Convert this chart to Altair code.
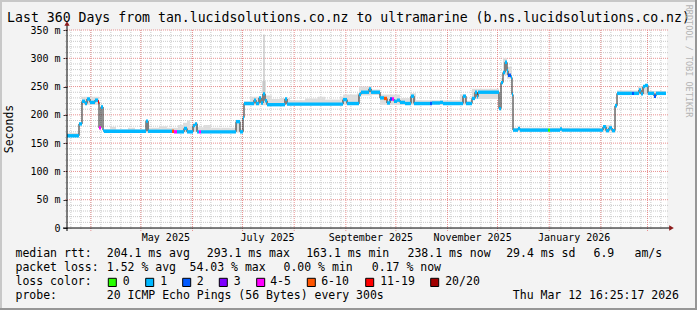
import altair as alt
import pandas as pd

MONO = "DejaVu Sans Mono"

# ---------------- data ----------------
# x is expressed in days since the start of the 360-day window
START = pd.Timestamp("2025-03-17 16:25:17")
SPAN_DAYS = 360
LAST_DAY = 359.4

# median rtt (ms), step series
med_day = [0, 7.2, 9, 10.8, 12, 13.8, 16.8, 18.6, 19.2, 20.4,
           21.6, 22.2, 47.4, 48.6, 63, 64.2, 66, 70.2, 72, 75.6,
           76.8, 78, 79.2, 80.4, 101.4, 103.8, 105.6, 106.2, 112.2, 113.4,
           115.2, 116.4, 117.6, 118.8, 120, 130.8, 132, 165.6, 168, 175.2,
           176.4, 181.2, 182.4, 187.8, 190.2, 192, 193.8, 195, 196.2, 198,
           199.8, 202.8, 206.4, 208.2, 217.8, 219, 223.8, 225.6, 237.6, 239.4,
           243, 244.8, 246, 246.6, 259.2, 260.4, 261.6, 262.8, 264, 264.6,
           266.4, 267, 267.6, 270.6, 271.8, 288.6, 289.8, 295.8, 297, 321.6,
           323.4, 325.2, 327, 328.8, 330, 339, 340.2, 343.2, 344.4, 345.6,
           346.8, 348.6, 352.2, 353.4]
med_ms = [163, 184, 224, 220, 228, 222, 226, 223, 177, 214,
          173, 171, 189, 171, 171, 170, 170, 176, 170, 181,
          184, 170, 170, 170, 188, 170, 195, 220, 226, 220,
          230, 221, 237, 225, 218, 228, 219, 227, 220, 236,
          240, 246, 240, 230, 229, 221, 228, 228, 224, 226,
          222, 220, 233, 220, 220, 221, 222, 220, 233, 220,
          229, 240, 232, 240, 211, 257, 275, 293, 278, 270,
          266, 236, 173, 176, 173, 173, 173, 175, 173, 179,
          172, 177, 172, 216, 238, 238, 238, 244, 237, 250,
          252, 238, 233, 238]
med_loss = ["1", "1", "1", "1", "1", "1", "1", "11-19", "4-5", "1",
            "1", "1", "1", "1", "6-10", "4-5", "1", "1", "1", "1",
            "1", "1", "4-5", "1", "1", "1", "1", "1", "1", "1",
            "1", "1", "1", "1", "1", "1", "1", "1", "1", "1",
            "1", "1", "1", "1", "6-10", "1", "2", "4-5", "1", "1",
            "1", "1", "1", "1", "2", "1", "1", "1", "1", "1",
            "1", "1", "1", "1", "1", "1", "1", "1", "1", "2",
            "1", "1", "1", "1", "1", "0", "1", "1", "1", "1",
            "1", "1", "1", "1", "1", "2", "1", "1", "1", "1",
            "1", "1", "2", "1"]

# smoke (spread of the 20 pings), step series
smoke_day = [0, 7.2, 9, 19.2, 20.4, 21.6, 25.8, 29.4, 36.6, 40.8,
             47.4, 49.2, 55.2, 60, 66.6, 69.6, 72, 73.8, 75.6, 78.6,
             82.2, 86.4, 101.4, 103.8, 106.2, 109.8, 117, 119.4, 123, 129,
             133.8, 142.8, 150.6, 154.8, 163.8, 165.6, 174, 175.2, 183, 187.8,
             199.8, 205.8, 209.4, 235.8, 239.4, 243, 259.2, 260.4, 261.6, 264,
             267, 267.6, 321.6, 327, 328.8, 330, 342.6, 348.6]
smoke_lo = [162, 182, 218, 175, 212, 170, 170, 170, 170, 170,
            169, 169, 169, 169, 169, 169, 169, 169, 170, 169,
            169, 169, 169, 169, 217, 217, 217, 217, 217, 217,
            217, 217, 217, 217, 217, 218, 218, 234, 235, 218,
            218, 218, 218, 218, 218, 228, 209, 255, 270, 264,
            234, 171, 171, 171, 214, 236, 236, 236]
smoke_hi = [168, 186, 232, 180, 218, 175, 179, 174, 177, 174,
            191, 177, 180, 177, 182, 186, 190, 181, 186, 178,
            182, 177, 191, 175, 224, 232, 260, 234, 228, 230,
            226, 229, 232, 227, 232, 236, 238, 250, 245, 236,
            230, 238, 226, 236, 225, 246, 216, 265, 300, 285,
            240, 177, 182, 176, 220, 243, 250, 242]

spike_day = [118.2]
spike_lo = [236]
spike_hi = [342]

y_major = [0, 50, 100, 150, 200, 250, 300, 350]
y_minor = [v for v in range(10, 350, 10) if v % 50]

month_names = ["May 2025", "July 2025", "September 2025", "November 2025", "January 2026"]
month_label_dates = ["2025-05-16", "2025-07-16", "2025-09-16", "2025-11-16", "2026-01-16"]
month_start_dates = ["2025-04-01", "2025-05-01", "2025-06-01", "2025-07-01", "2025-08-01",
                     "2025-09-01", "2025-10-01", "2025-11-01", "2025-12-01", "2026-01-01",
                     "2026-02-01", "2026-03-01"]

loss_names = ["0", "1", "2", "3", "4-5", "6-10", "11-19", "20/20"]
loss_colors = ["#26ff00", "#00b8ff", "#0059ff", "#7e00ff", "#ff00ff", "#ff5500", "#ff0000", "#a10000"]

title_text = "Last 360 Days from tan.lucidsolutions.co.nz to ultramarine (b.ns.lucidsolutions.co.nz)"
row1_text = ["median rtt:", "204.1 ms avg", "293.1 ms max", "163.1 ms min", "238.1 ms now", "29.4 ms sd", "6.9", "am/s"]
row1_x = [16, 107.3, 207.3, 306.7, 408, 506.7, 594, 635]
row2_text = ["packet loss:", "1.52 % avg", "54.03 % max", "0.00 % min", "0.17 % now"]
row2_x = [16, 107.3, 190, 284, 372.3]
swatch_x = [108.3, 145.7, 182.7, 219.3, 256.7, 307.3, 365.7, 430.7]
swatch_label_x = [123.3, 160.7, 197.3, 234.3, 270.7, 321.7, 380.7, 445.7]
row4_text = ["probe:", "20 ICMP Echo Pings (56 Bytes) every 300s", "Thu Mar 12 16:25:17 2026"]
row4_x = [16, 107.3, 513.3]
row_y = [254.3, 268.3, 282.3, 296]

# ---------------- layout helpers ----------------
OX, OY = 67, 30          # plot-area origin in the 697x310 picture
W, H = 600, 198


def day_of(d):
    return (pd.Timestamp(d) - START) / pd.Timedelta(days=1)


xs = alt.Scale(domain=[0, SPAN_DAYS], nice=False, zero=False)
ys = alt.Scale(domain=[0, 350], nice=False, zero=True)
yaxis = alt.Axis(values=y_major, labelExpr="datum.value == 0 ? '0' : datum.value + ' m'",
                 domain=False, grid=False, ticks=True, tickSize=4, tickColor="#333333",
                 labelFont=MONO, labelFontSize=10, labelColor="#000000", labelPadding=3,
                 title=None)
dummy = pd.DataFrame({"a": [0]})


def X(field):
    return alt.X(field, type="quantitative", scale=xs, axis=None)


def Y(field):
    return alt.Y(field, type="quantitative", scale=ys, axis=yaxis)


def txt(t, px, py, size=11.5, align="left", angle=0, color="#000000", baseline="middle"):
    return alt.Chart(dummy).mark_text(
        text=t, font=MONO, fontSize=size, align=align, baseline=baseline,
        angle=angle, color=color
    ).encode(x=alt.value(px - OX), y=alt.value(py - OY))


# ---------------- tables ----------------
apr1 = day_of("2025-04-01")
minor_days = [apr1 + 6 * k for k in range(-3, 62) if 0 < apr1 + 6 * k < SPAN_DAYS]
major_days = [day_of(d) for d in month_start_dates]

vminor = pd.DataFrame({"d": minor_days})
vmajor = pd.DataFrame({"d": major_days})
hminor = pd.DataFrame({"v": y_minor})
hmajor = pd.DataFrame({"v": y_major[1:]})

smoke = pd.DataFrame({"d": smoke_day + [LAST_DAY],
                      "lo": smoke_lo + [smoke_lo[-1]],
                      "hi": smoke_hi + [smoke_hi[-1]]})
spike = pd.DataFrame({"d": spike_day, "lo": spike_lo, "hi": spike_hi})
medline = pd.DataFrame({"d": med_day + [LAST_DAY], "v": med_ms + [med_ms[-1]]})
band = pd.DataFrame({"d0": med_day, "d1": med_day[1:] + [LAST_DAY],
                     "lo": [v - 3.0 for v in med_ms], "hi": [v + 3.0 for v in med_ms],
                     "loss": med_loss})
mlabels = pd.DataFrame({"d": [day_of(d) for d in month_label_dates], "t": month_names})

loss_scale = alt.Scale(domain=loss_names, range=loss_colors)

# ---------------- layers ----------------
layers = []
layers.append(alt.Chart(vminor).mark_rule(color="#c8c8c8", strokeDash=[1, 1], strokeWidth=1)
              .encode(x=X("d"), y=alt.value(0), y2=alt.value(H + 2)))
layers.append(alt.Chart(hminor).mark_rule(color="#c8c8c8", strokeDash=[1, 1], strokeWidth=1)
              .encode(y=Y("v"), x=alt.value(-2), x2=alt.value(W + 2)))
layers.append(alt.Chart(vmajor).mark_rule(color="#e89090", strokeDash=[1, 1], strokeWidth=1)
              .encode(x=X("d"), y=alt.value(0), y2=alt.value(H + 3)))
layers.append(alt.Chart(hmajor).mark_rule(color="#e89090", strokeDash=[1, 1], strokeWidth=1)
              .encode(y=Y("v"), x=alt.value(-2), x2=alt.value(W + 2)))
layers.append(alt.Chart(smoke).mark_area(interpolate="step-after", color="#dddddd")
              .encode(x=X("d"), y=Y("hi"), y2="lo"))
layers.append(alt.Chart(spike).mark_rule(color="#b0b0b0", strokeWidth=1)
              .encode(x=X("d"), y=Y("lo"), y2="hi"))
layers.append(alt.Chart(medline).mark_line(interpolate="step-after", color="#202020", strokeWidth=1)
              .encode(x=X("d"), y=Y("v")))
layers.append(alt.Chart(band).mark_rect()
              .encode(x=X("d0"), x2="d1", y=Y("lo"), y2="hi",
                      color=alt.Color("loss:N", scale=loss_scale, legend=None)))

# axis lines and arrows
layers.append(alt.Chart(dummy).mark_rule(color="#000000", strokeWidth=1)
              .encode(x=alt.value(0), y=alt.value(-6), y2=alt.value(H + 3)))
layers.append(alt.Chart(dummy).mark_rule(color="#000000", strokeWidth=1)
              .encode(y=alt.value(H), x=alt.value(-4), x2=alt.value(W + 4)))
layers.append(alt.Chart(dummy).mark_point(shape="triangle-up", filled=True, size=28, color="#8b1a1a", opacity=1)
              .encode(x=alt.value(0), y=alt.value(-6.5)))
layers.append(alt.Chart(dummy).mark_point(shape="triangle-right", filled=True, size=28, color="#8b1a1a", opacity=1)
              .encode(x=alt.value(W + 4.5), y=alt.value(H)))

# month labels
layers.append(alt.Chart(mlabels).mark_text(font=MONO, fontSize=10, align="center", baseline="middle", color="#000000")
              .encode(x=X("d"), y=alt.value(237.7 - OY), text="t:N"))

# titles
layers.append(txt(title_text, 348.5, 18.3, size=13.2, align="center"))
layers.append(txt("Seconds", 10, 129, size=11.5, align="center", angle=270))
layers.append(txt("RRDTOOL / TOBI OETIKER", 689, 61, size=8.5, align="center", angle=90, color="#b4b4b4"))

# legend rows
for t, x in zip(row1_text, row1_x):
    layers.append(txt(t, x - 0.5, row_y[0]))
for t, x in zip(row2_text, row2_x):
    layers.append(txt(t, x - 0.5, row_y[1]))
layers.append(txt("loss color:", 16 - 0.5, row_y[2]))
for name, col, sx, lx in zip(loss_names, loss_colors, swatch_x, swatch_label_x):
    layers.append(alt.Chart(dummy).mark_rect(color=col, stroke="#000000", strokeWidth=1)
                  .encode(x=alt.value(sx - OX), x2=alt.value(sx + 8 - OX),
                          y=alt.value(278.3 - OY), y2=alt.value(286.5 - OY)))
    layers.append(txt(name, lx - 0.5, row_y[2]))
for t, x in zip(row4_text, row4_x):
    layers.append(txt(t, x - 0.5, row_y[3]))

# picture frame (3-D border)
layers.append(alt.Chart(dummy).mark_rule(color="#c8c8c8", strokeWidth=2)
              .encode(x=alt.value(-OX), x2=alt.value(697 - OX), y=alt.value(1 - OY)))
layers.append(alt.Chart(dummy).mark_rule(color="#c8c8c8", strokeWidth=2)
              .encode(y=alt.value(-OY), y2=alt.value(310 - OY), x=alt.value(1 - OX)))
layers.append(alt.Chart(dummy).mark_rule(color="#969696", strokeWidth=2)
              .encode(x=alt.value(-OX), x2=alt.value(697 - OX), y=alt.value(309 - OY)))
layers.append(alt.Chart(dummy).mark_rule(color="#969696", strokeWidth=2)
              .encode(y=alt.value(-OY), y2=alt.value(310 - OY), x=alt.value(696 - OX)))

chart = alt.layer(*layers).properties(
    width=W, height=H,
    autosize=alt.AutoSizeParams(type="none"),
    padding={"left": OX, "top": OY, "right": 697 - OX - W, "bottom": 310 - OY - H},
    background="#f3f3f3",
).configure_view(stroke=None, fill="#ffffff")

chart.save("out.html", embed_options={"renderer": "svg", "actions": False})
